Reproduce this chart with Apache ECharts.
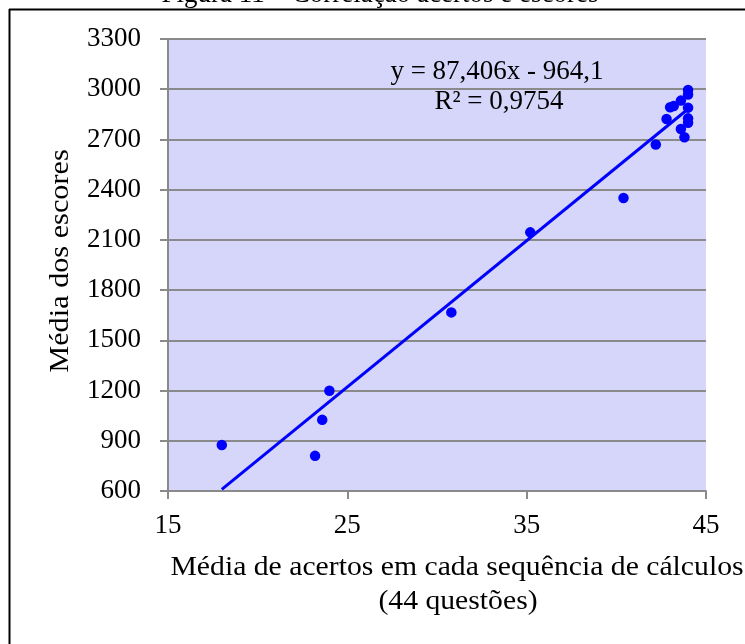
<!DOCTYPE html>
<html>
<head>
<meta charset="utf-8">
<script src="https://cdn.jsdelivr.net/npm/echarts@6/dist/echarts.min.js"></script>
<style>
html,body{margin:0;padding:0;background:#fff;}
#chart{width:745px;height:644px;}
</style>
</head>
<body>
<div id="chart"></div>
<script>
// Data
var acertos = [18.0, 23.2, 23.6, 24.0, 30.8, 35.2, 40.4, 42.2, 42.8, 43.0, 43.2, 43.6, 43.6, 43.8, 44.0, 44.0, 44.0, 44.0, 44.0];
var escores = [875, 810, 1025, 1199, 1667, 2145, 2350, 2670, 2822, 2892, 2900, 2932, 2762, 2713, 2995, 2968, 2890, 2826, 2800];
var yTicks = [600, 900, 1200, 1500, 1800, 2100, 2400, 2700, 3000, 3300];
var xTicks = [15, 25, 35, 45];
var trendSlope = 87.406;
var trendIntercept = -964.1;
var equationText = ['y = 87,406x - 964,1', 'R² = 0,9754'];
var titleText = 'Figura 11 – Correlação acertos e escores';
var yTitle = 'Média dos escores';
var xTitle = ['Média de acertos em cada sequência de cálculos', '(44 questões)'];

var points = acertos.map(function (x, i) { return [x, escores[i]]; });
var xMin = Math.min.apply(null, acertos), xMax = Math.max.apply(null, acertos);
var trend = [[xMin, trendSlope * xMin + trendIntercept], [xMax, trendSlope * xMax + trendIntercept]];

var FONT = '"Liberation Serif", "Times New Roman", serif';
var plain = function (v) { return String(v); };
var chart = echarts.init(document.getElementById('chart'), null, {renderer: 'canvas'});
chart.setOption({
  animation: false,
  backgroundColor: '#ffffff',
  grid: {left: 168, top: 39, width: 538, height: 452, show: true, backgroundColor: '#d6d6fb', borderWidth: 0},
  xAxis: {
    type: 'value', min: xTicks[0], max: xTicks[xTicks.length - 1], interval: 10,
    axisLine: {show: true, lineStyle: {color: '#8a8a8a', width: 2}},
    axisTick: {show: true, length: 8, inside: false, lineStyle: {color: '#8a8a8a', width: 2}},
    splitLine: {show: false},
    axisLabel: {color: '#000', fontFamily: FONT, fontSize: 27, margin: 21, formatter: plain}
  },
  yAxis: {
    type: 'value', min: yTicks[0], max: yTicks[yTicks.length - 1], interval: 300,
    axisLine: {show: true, lineStyle: {color: '#8a8a8a', width: 2}},
    axisTick: {show: true, length: 8, inside: false, lineStyle: {color: '#8a8a8a', width: 2}},
    splitLine: {show: true, lineStyle: {color: '#8a8a8a', width: 2}},
    axisLabel: {color: '#000', fontFamily: FONT, fontSize: 27, margin: 27, formatter: plain}
  },
  series: [
    {type: 'line', data: trend, symbol: 'none', lineStyle: {color: '#0000ff', width: 3}, z: 2},
    {type: 'scatter', data: points, symbol: 'circle', symbolSize: 10.5, itemStyle: {color: '#0000ff', opacity: 1}, z: 3}
  ],
  graphic: [
    {type: 'line', shape: {x1: 9, y1: 9.5, x2: 745, y2: 9.5}, style: {stroke: '#000', lineWidth: 2}, z: 10},
    {type: 'line', shape: {x1: 9.5, y1: 9, x2: 9.5, y2: 644}, style: {stroke: '#000', lineWidth: 2}, z: 10},
    {type: 'text', x: 380, y: 8, style: {text: titleText, font: '27px ' + FONT, fill: '#000', textAlign: 'center', textVerticalAlign: 'bottom'}, z: 10},
    {type: 'text', x: 61, y: 261, rotation: Math.PI / 2, scaleX: 1.12, style: {text: yTitle, font: '27px ' + FONT, fill: '#000', textAlign: 'center', textVerticalAlign: 'middle'}, z: 10},
    {type: 'text', x: 457, y: 568, scaleX: 1.1, style: {text: xTitle[0], font: '27px ' + FONT, fill: '#000', textAlign: 'center', textVerticalAlign: 'middle'}, z: 10},
    {type: 'text', x: 458, y: 602, scaleX: 1.1, style: {text: xTitle[1], font: '27px ' + FONT, fill: '#000', textAlign: 'center', textVerticalAlign: 'middle'}, z: 10},
    {type: 'text', x: 497, y: 72, style: {text: equationText[0], font: '27px ' + FONT, fill: '#000', textAlign: 'center', textVerticalAlign: 'middle'}, z: 10},
    {type: 'text', x: 499, y: 102, style: {text: equationText[1], font: '27px ' + FONT, fill: '#000', textAlign: 'center', textVerticalAlign: 'middle'}, z: 10}
  ]
});
</script>
</body>
</html>
